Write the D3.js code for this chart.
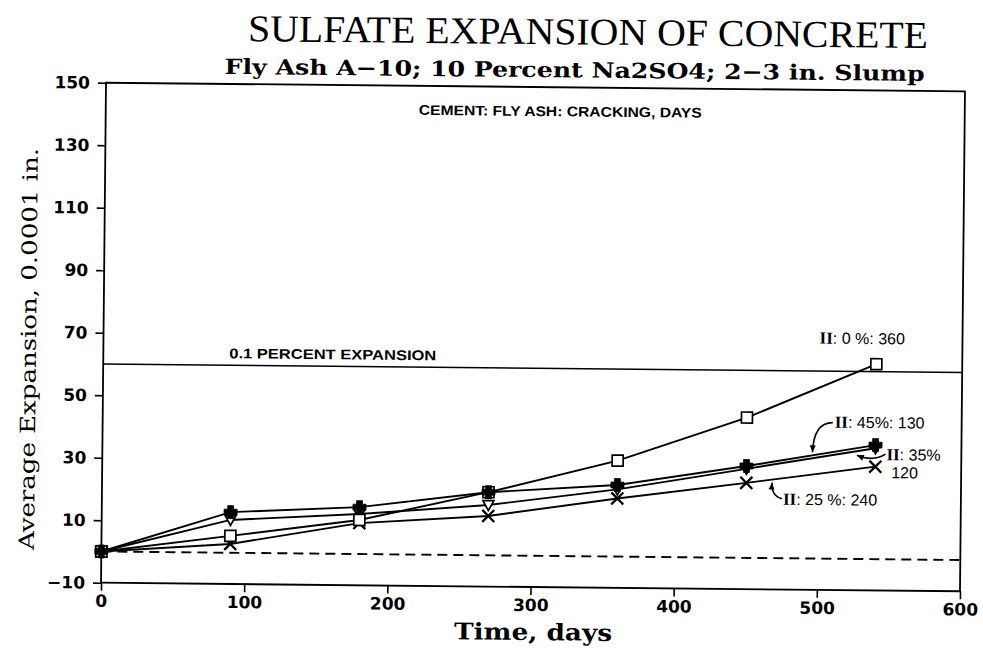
<!DOCTYPE html>
<html>
<head>
<meta charset="utf-8">
<script src="https://cdn.jsdelivr.net/npm/d3@7"></script>
<style>
  html, body { margin: 0; padding: 0; background: #fff; }
  svg { display: block; }
</style>
</head>
<body>
<svg id="chart" width="983" height="654"></svg>
<script>
// Exposure time of the specimens (days)
const days = [0, 90, 180, 270, 360, 450, 540];

// Average expansion, 0.0001 in., one array per cement : fly ash mix
const expansionII0 = [0, 5.4, 10.9, 20.2, 30.7, 44.9, 62.4];
const expansionII45 = [0, 13.0, 15.0, 20.2, 22.9, 29.4, 36.5];
const expansionII35 = [0, 10.5, 12.8, 16.1, 21.5, 28.5, 35.5];
const expansionII25 = [0, 2.8, 9.9, 12.6, 18.6, 24.0, 29.6];

// Axis ticks
const xTicks = [0, 100, 200, 300, 400, 500, 600];
const yTicks = [-10, 10, 30, 50, 70, 90, 110, 130, 150];

// Reference levels
const limitExpansion = 60;       // 0.1 percent expansion
const zeroExpansion = 0;

// Texts
const titleText = "SULFATE EXPANSION OF CONCRETE";
const subtitleText = "Fly Ash A\u221210; 10 Percent Na2SO4; 2\u22123 in. Slump";
const xLabel = "Time, days";
const yLabel = "Average Expansion, 0.0001 in.";
const keyHeading = "CEMENT: FLY ASH: CRACKING, DAYS";
const limitLabel = "0.1 PERCENT EXPANSION";

const svg = d3.select("#chart");
const frame = { left: 103.5, right: 962.5, top: 87, bottom: 587 };

const x = d3.scaleLinear().domain([0, 600]).range([frame.left, frame.right]);
const y = d3.scaleLinear().domain([-10, 150]).range([frame.bottom, frame.top]);

// the sheet sits a little askew
const root = svg.append("g").attr("transform", "rotate(0.57,533,337)");

const sans = "'Liberation Sans', Arial, sans-serif";
const wideSans = "'DejaVu Sans', Verdana, sans-serif";
const serif = "'Liberation Serif', 'Times New Roman', serif";
const slab = "'DejaVu Serif', serif";

// Titles
root.append("text")
  .attr("x", 585).attr("y", 44)
  .attr("text-anchor", "middle")
  .attr("font-family", serif).attr("font-size", 38)
  .attr("textLength", 680).attr("lengthAdjust", "spacingAndGlyphs")
  .text(titleText);

root.append("text")
  .attr("x", 572).attr("y", 77)
  .attr("text-anchor", "middle")
  .attr("font-family", slab).attr("font-weight", "bold").attr("font-size", 21)
  .attr("textLength", 700).attr("lengthAdjust", "spacingAndGlyphs")
  .text(subtitleText);

// Axis labels
root.append("text")
  .attr("transform", "translate(36,354) rotate(-90)")
  .attr("text-anchor", "middle")
  .attr("font-family", slab).attr("font-size", 21)
  .attr("textLength", 402).attr("lengthAdjust", "spacingAndGlyphs")
  .text(yLabel);

root.append("text")
  .attr("x", 536).attr("y", 640)
  .attr("text-anchor", "middle")
  .attr("font-family", slab).attr("font-weight", "bold").attr("font-size", 23)
  .attr("textLength", 158).attr("lengthAdjust", "spacingAndGlyphs")
  .text(xLabel);

// Frame
root.append("rect")
  .attr("x", frame.left).attr("y", frame.top)
  .attr("width", frame.right - frame.left).attr("height", frame.bottom - frame.top)
  .attr("fill", "none").attr("stroke", "#000").attr("stroke-width", 1.8);

// Axes
const yAxis = d3.axisLeft(y).tickValues(yTicks).tickSize(8).tickPadding(8)
  .tickFormat(d => d < 0 ? "\u2212" + Math.abs(d) : d);
const xAxis = d3.axisBottom(x).tickValues(xTicks).tickSize(8).tickPadding(4);

const gy = root.append("g").attr("transform", `translate(${frame.left},0)`).call(yAxis);
const gx = root.append("g").attr("transform", `translate(0,${frame.bottom})`).call(xAxis);
[gx, gy].forEach(g => {
  g.select(".domain").remove();
  g.selectAll(".tick line").attr("stroke", "#000").attr("stroke-width", 1.6);
  g.selectAll(".tick text")
    .attr("fill", "#000")
    .attr("font-family", wideSans)
    .attr("font-size", 17)
    .attr("font-weight", "bold");
});

// Key heading
root.append("text")
  .attr("x", 558).attr("y", 116)
  .attr("text-anchor", "middle")
  .attr("font-family", sans).attr("font-weight", "bold").attr("font-size", 14)
  .attr("textLength", 283).attr("lengthAdjust", "spacingAndGlyphs")
  .text(keyHeading);

// 0.1 percent expansion limit
root.append("line")
  .attr("x1", x(0)).attr("x2", x(600))
  .attr("y1", y(limitExpansion)).attr("y2", y(limitExpansion))
  .attr("stroke", "#000").attr("stroke-width", 1.4);
root.append("text")
  .attr("x", x(88)).attr("y", y(limitExpansion) - 7)
  .attr("font-family", sans).attr("font-weight", "bold").attr("font-size", 14)
  .attr("textLength", 207).attr("lengthAdjust", "spacingAndGlyphs")
  .text(limitLabel);

// Zero line
root.append("line")
  .attr("x1", x(0)).attr("x2", x(600))
  .attr("y1", y(zeroExpansion)).attr("y2", y(zeroExpansion))
  .attr("stroke", "#000").attr("stroke-width", 1.9)
  .attr("stroke-dasharray", "10,6");

// Marker shapes
const markers = {
  square: s => `M${-s},${-s}h${2 * s}v${2 * s}h${-2 * s}Z`,
  triDown: s => `M${-s},${-s * 0.8}L${s},${-s * 0.8}L0,${s}Z`,
  times: s => `M${-s},${-s}L${s},${s}M${-s},${s}L${s},${-s}`,
  plus: s => `M${-s * 0.45},${-s}h${s * 0.9}v${s * 0.55}h${s * 0.55}v${s * 0.9}h${-s * 0.55}v${s * 0.55}h${-s * 0.9}v${-s * 0.55}h${-s * 0.55}v${-s * 0.9}h${s * 0.55}Z`
};

const series = [
  { values: expansionII25, marker: "times", size: 6, fill: "none", sw: 2.3 },
  { values: expansionII35, marker: "triDown", size: 5.5, fill: "#fff", sw: 1.7 },
  { values: expansionII0, marker: "square", size: 5.5, fill: "#fff", sw: 1.7 },
  { values: expansionII45, marker: "plus", size: 6.5, fill: "#000", sw: 0.8 }
];

const line = d3.line().x(d => x(d.day)).y(d => y(d.value));

series.forEach(s => {
  const pts = days.map((d, i) => ({ day: d, value: s.values[i] }));
  root.append("path")
    .attr("d", line(pts))
    .attr("fill", "none").attr("stroke", "#000").attr("stroke-width", 1.9);
  s.pts = pts;
});
series.forEach(s => {
  root.append("g").selectAll("path").data(s.pts).join("path")
    .attr("transform", d => `translate(${x(d.day)},${y(d.value)})`)
    .attr("d", markers[s.marker](s.size))
    .attr("fill", s.fill).attr("stroke", "#000").attr("stroke-width", s.sw);
});

// Value on a series line at a given day
function valueAt(values, day) {
  const i = Math.min(d3.bisectRight(days, day) - 1, days.length - 2);
  const t = (day - days[i]) / (days[i + 1] - days[i]);
  return values[i] + t * (values[i + 1] - values[i]);
}

// Series notes: cement type : fly ash : cracking, days
function note(px, py, rest) {
  const t = root.append("text")
    .attr("x", px).attr("y", py)
    .attr("font-family", sans).attr("font-size", 16);
  t.append("tspan").attr("font-family", serif).attr("font-weight", "bold").attr("font-size", 17).text("II");
  t.append("tspan").text(rest);
  return t;
}
const last = days.length - 1;
const endX = x(days[last]);

note(endX - 57, y(expansionII0[last]) - 20, ": 0 %: 360");
note(endX - 41, y(expansionII45[last]) - 17, ": 45%: 130");
note(endX + 11, y(expansionII45[last]) + 15, ": 35%");
root.append("text")
  .attr("x", endX + 16).attr("y", y(expansionII45[last]) + 33)
  .attr("font-family", sans).attr("font-size", 16).text("120");
note(endX - 92, y(expansionII25[last]) + 39, ": 25 %: 240");

// Leader arrows
function arrow(x0, y0, cx, cy, x1, y1) {
  root.append("path")
    .attr("d", `M${x0},${y0}Q${cx},${cy} ${x1},${y1}`)
    .attr("fill", "none").attr("stroke", "#000").attr("stroke-width", 1.6);
  const a = Math.atan2(y1 - cy, x1 - cx);
  const L = 7, w = 3;
  const bx = x1 - L * Math.cos(a), by = y1 - L * Math.sin(a);
  root.append("path")
    .attr("d", `M${x1},${y1}L${bx - w * Math.sin(a)},${by + w * Math.cos(a)}L${bx + w * Math.sin(a)},${by - w * Math.cos(a)}Z`)
    .attr("fill", "#000");
}

// 45 % note -> its line
{
  const d = 496, tx = x(d), ty = y(valueAt(expansionII45, d));
  const sx = endX - 43, sy = y(expansionII45[last]) - 22;
  arrow(sx, sy, tx + 1, sy, tx, ty - 3);
}
// 35 % note -> its end point
{
  const d = 527, tx = x(d), ty = y(valueAt(expansionII35, d)) + 4;
  const sx = endX + 10, sy = y(expansionII45[last]) + 9;
  arrow(sx, sy, endX - 2, sy + 8, tx, ty);
}
// 25 % note -> its line
{
  const d = 468, tx = x(d), ty = y(valueAt(expansionII25, d)) + 3;
  const sx = endX - 93, sy = y(expansionII25[last]) + 33;
  arrow(sx, sy, tx - 1, sy - 3, tx, ty);
}
</script>
</body>
</html>
